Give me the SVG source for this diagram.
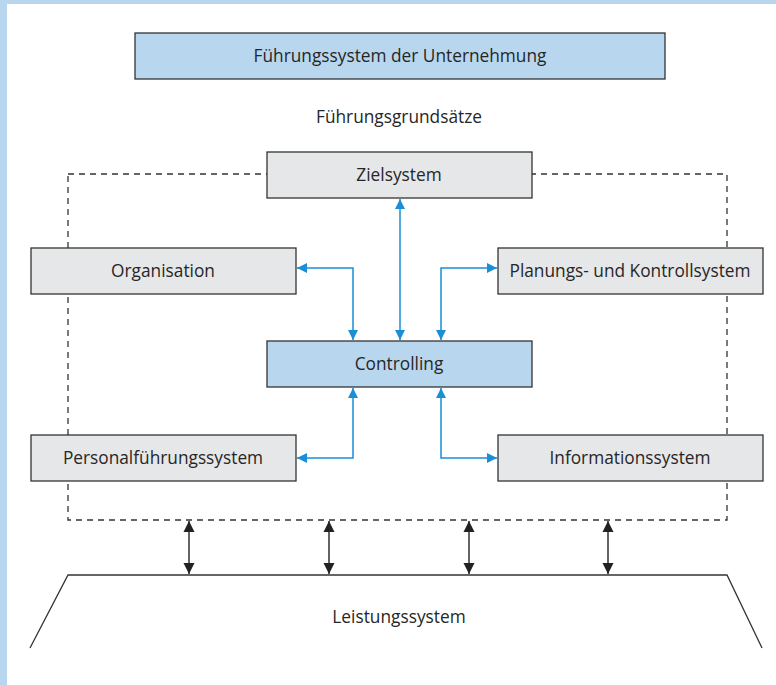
<svg xmlns="http://www.w3.org/2000/svg" width="776" height="685" viewBox="0 0 776 685">
<defs>
<style>
.t{font-family:"Open Sans","Liberation Sans",sans-serif;font-size:17.3px;fill:#262626;text-anchor:middle;dominant-baseline:central}
.box{fill:#e6e7e9;stroke:#333;stroke-width:1.3}
.bl{fill:#b8d7ee;stroke:#333;stroke-width:1.3}
.ba{fill:none;stroke:#1b8fd6;stroke-width:1.5;marker-start:url(#ab);marker-end:url(#ab)}
.ka{fill:none;stroke:#222;stroke-width:1.4;marker-start:url(#ak);marker-end:url(#ak)}
</style>
<marker id="ab" viewBox="0 0 10 10" refX="10" refY="5" markerWidth="10" markerHeight="11" markerUnits="userSpaceOnUse" orient="auto-start-reverse"><path d="M0,0L10,5L0,10z" fill="#1b8fd6"/></marker>
<marker id="ak" viewBox="0 0 10 10" refX="10" refY="5" markerWidth="11" markerHeight="12" markerUnits="userSpaceOnUse" orient="auto-start-reverse"><path d="M0,0L10,5L0,10z" fill="#222"/></marker>
</defs>
<rect x="0" y="0" width="776" height="685" fill="#fff"/>
<rect x="0" y="0" width="776" height="4" fill="#b8d7ee"/>
<rect x="0" y="0" width="7" height="685" fill="#b8d7ee"/>
<g id="frame"><rect x="68" y="174" width="659" height="346" fill="none" stroke="#333" stroke-width="1.3" stroke-dasharray="6,5"/></g>
<g id="fuehrung"><rect class="bl" x="135" y="33" width="530" height="46"/><text class="t" x="400" y="55">Führungssystem der Unternehmung</text></g>
<g id="grundsaetze"><text class="t" x="399" y="116">Führungsgrundsätze</text></g>
<g id="ziel"><rect class="box" x="267" y="152" width="265" height="46"/><text class="t" x="399" y="174">Zielsystem</text></g>
<g id="org"><rect class="box" x="31" y="248" width="265" height="46"/><text class="t" x="163" y="270">Organisation</text></g>
<g id="plan"><rect class="box" x="498" y="248" width="265" height="46"/><text class="t" x="630" y="270">Planungs- und Kontrollsystem</text></g>
<g id="controlling"><rect class="bl" x="267" y="341" width="265" height="46"/><text class="t" x="399" y="363">Controlling</text></g>
<g id="personal"><rect class="box" x="31" y="435" width="265" height="46"/><text class="t" x="163" y="457">Personalführungssystem</text></g>
<g id="info"><rect class="box" x="498" y="435" width="265" height="46"/><text class="t" x="630" y="457">Informationssystem</text></g>
<g id="leistung"><path d="M30,648L68,575H727L762,648" fill="none" stroke="#333" stroke-width="1.3"/><text class="t" x="399" y="616">Leistungssystem</text></g>
<g id="connectors">
<path class="ba" d="M400,199V340"/>
<path class="ba" d="M297,268H353V340"/>
<path class="ba" d="M497,268H441V340"/>
<path class="ba" d="M297,458H353V388"/>
<path class="ba" d="M497,458H441V388"/>
<path class="ka" d="M189,521V574"/>
<path class="ka" d="M329,521V574"/>
<path class="ka" d="M469,521V574"/>
<path class="ka" d="M608,521V574"/>
</g>
</svg>
